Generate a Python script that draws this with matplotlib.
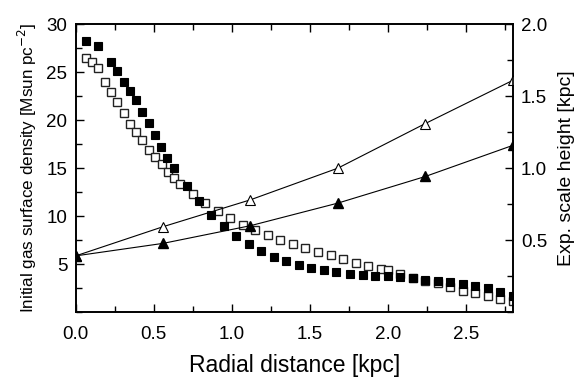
import matplotlib
matplotlib.use("Agg")
import matplotlib.pyplot as plt
from matplotlib.ticker import MultipleLocator

plt.rcParams['font.family'] = ['Liberation Sans', 'DejaVu Sans']

# gas surface density, model A (filled squares)
r_fill = [0.064, 0.145, 0.226, 0.267, 0.307, 0.348, 0.386, 0.426, 0.467, 0.507,
          0.547, 0.588, 0.628, 0.71, 0.79, 0.87, 0.95, 1.03, 1.11, 1.19,
          1.27, 1.35, 1.43, 1.51, 1.59, 1.67, 1.76, 1.84, 1.92, 2.0,
          2.08, 2.16, 2.24, 2.32, 2.40, 2.48, 2.56, 2.64, 2.72, 2.80]
sd_fill = [28.22, 27.73, 26.06, 25.15, 24.0, 23.0, 22.06, 20.83, 19.68, 18.46,
           17.2, 16.05, 15.05, 13.17, 11.6, 10.16, 8.98, 7.93, 7.13, 6.37,
           5.78, 5.33, 4.94, 4.6, 4.39, 4.18, 4.0, 3.82, 3.79, 3.72,
           3.62, 3.56, 3.38, 3.24, 3.1, 2.9, 2.75, 2.5, 2.1, 1.7]

# gas surface density, model B (open squares)
r_open = [0.064, 0.105, 0.145, 0.186, 0.226, 0.267, 0.307, 0.348, 0.386, 0.426,
          0.47, 0.51, 0.55, 0.592, 0.63, 0.67, 0.752, 0.83, 0.912, 0.99,
          1.072, 1.15, 1.23, 1.31, 1.39, 1.472, 1.55, 1.634, 1.715, 1.795,
          1.874, 1.955, 2.0, 2.08, 2.16, 2.24, 2.32, 2.40, 2.48, 2.56,
          2.64, 2.72, 2.80]
sd_open = [26.51, 26.03, 25.46, 23.96, 22.95, 21.9, 20.75, 19.64, 18.73, 17.9,
           16.92, 16.15, 15.39, 14.58, 14.0, 13.37, 12.32, 11.34, 10.58, 9.77,
           9.11, 8.51, 8.03, 7.51, 7.09, 6.67, 6.29, 5.9, 5.48, 5.14,
           4.82, 4.48, 4.35, 3.95, 3.57, 3.18, 2.97, 2.6, 2.21, 1.98,
           1.63, 1.4, 1.16]

# exponential scale heights
r_h = [0.0, 0.56, 1.12, 1.68, 2.24, 2.8]
h_open = [0.39, 0.593, 0.78, 1.0, 1.31, 1.61]
h_fill = [0.39, 0.477, 0.60, 0.757, 0.942, 1.158]

fig = plt.figure(figsize=(5.85, 3.89), dpi=100)
ax = fig.add_axes([0.1294, 0.198, 0.7470, 0.7395])
ax2 = ax.twinx()

ax.plot(r_open, sd_open, 's', ms=5.4, mfc='white', mec='#222222', mew=1.0, zorder=2)
ax.plot(r_fill, sd_fill, 's', ms=5.4, mfc='black', mec='black', mew=0.8, zorder=3)

ax2.plot(r_h, h_open, '-^', color='black', lw=0.8, ms=6.5, mfc='white', mec='black', mew=0.8)
ax2.plot(r_h, h_fill, '-^', color='black', lw=0.8, ms=6.5, mfc='black', mec='black')

ax.set_zorder(1)
ax2.set_zorder(2)
ax.patch.set_visible(False)
ax2.patch.set_visible(False)

ax.set_xlim(0, 2.8)
ax.set_ylim(0, 30)
ax2.set_ylim(0, 2.0)

ax.set_xticks([0.0, 0.5, 1.0, 1.5, 2.0, 2.5])
ax.set_yticks([5, 10, 15, 20, 25, 30])
ax2.set_yticks([0.5, 1.0, 1.5, 2.0])
ax.xaxis.set_minor_locator(MultipleLocator(0.25))
ax.yaxis.set_minor_locator(MultipleLocator(2.5))
ax2.yaxis.set_minor_locator(MultipleLocator(0.25))

ax.xaxis.set_major_formatter(plt.FormatStrFormatter('%.1f'))
ax2.yaxis.set_major_formatter(plt.FormatStrFormatter('%.1f'))

ax.tick_params(which='both', direction='in', top=True, right=False, labelsize=13.5, pad=6)
ax.tick_params(axis='x', pad=10)
ax.tick_params(which='major', length=6, width=1)
ax.tick_params(which='minor', length=4, width=1)
ax2.tick_params(which='both', direction='in', labelsize=13.5, pad=6)
ax2.tick_params(which='major', length=6, width=1)
ax2.tick_params(which='minor', length=4, width=1)

for a in (ax, ax2):
    for s in a.spines.values():
        s.set_linewidth(1.2)

ax.set_xlabel('Radial distance [kpc]', fontsize=16.5, labelpad=8)
ax.set_ylabel('Initial gas surface density [Msun pc$^{-2}$]', fontsize=12.3, labelpad=5)
ax2.set_ylabel('Exp. scale height [kpc]', fontsize=14, labelpad=8)

fig.savefig('out.png', dpi=100)
